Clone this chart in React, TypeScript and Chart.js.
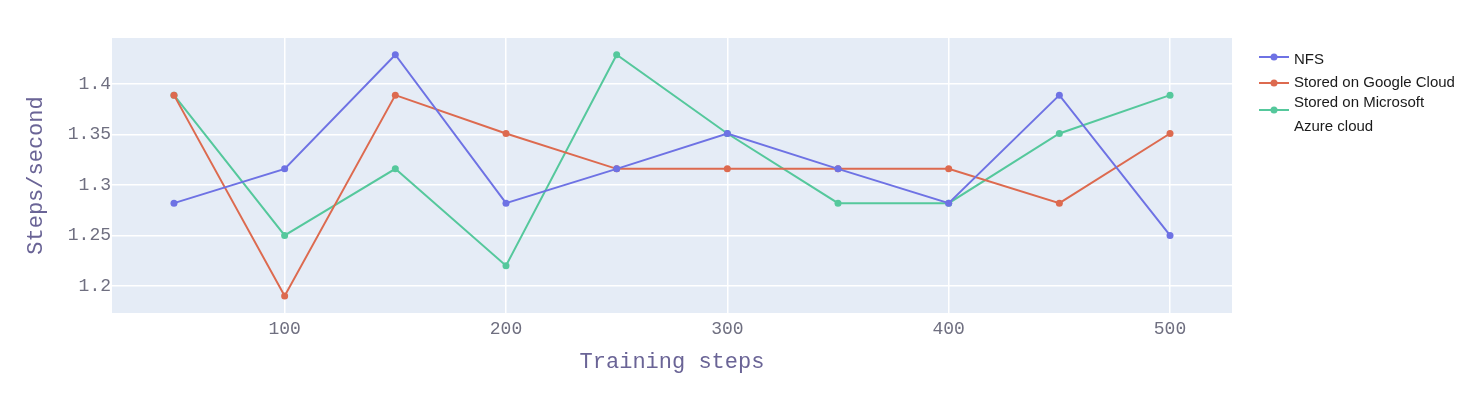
import React, { useEffect, useRef } from "react";
import { Chart, registerables } from "chart.js";

Chart.register(...registerables);

// ---- data ----
const steps = [50, 100, 150, 200, 250, 300, 350, 400, 450, 500];
const nfsValues = [1.282, 1.316, 1.429, 1.282, 1.316, 1.351, 1.316, 1.282, 1.389, 1.25];
const googleValues = [1.389, 1.19, 1.389, 1.351, 1.316, 1.316, 1.316, 1.316, 1.282, 1.351];
const azureValues = [1.389, 1.25, 1.316, 1.22, 1.429, 1.351, 1.282, 1.282, 1.351, 1.389];
const seriesNames = ["NFS", "Stored on Google Cloud", "Stored on Microsoft Azure cloud"];
const legendLines = [["NFS"], ["Stored on Google Cloud"], ["Stored on Microsoft", "Azure cloud"]];
const xTicks = [100, 200, 300, 400, 500];
const yTicks = [1.2, 1.25, 1.3, 1.35, 1.4];
const xTitle = "Training steps";
const yTitle = "Steps/second";

const colors = ["#6e72e4", "#dd6a4f", "#55c89c"];
const MONO = "'Liberation Mono', 'Courier New', monospace";

const bgPlugin = {
  id: "plotBg",
  beforeDraw(chart: any) {
    const { ctx, chartArea } = chart;
    ctx.save();
    ctx.fillStyle = "#E5ECF6";
    ctx.fillRect(chartArea.left, chartArea.top, chartArea.right - chartArea.left, chartArea.bottom - chartArea.top);
    ctx.restore();
  },
};

const legendPlugin = {
  id: "sideLegend",
  afterDraw(chart: any) {
    const { ctx, chartArea } = chart;
    const lineX0 = chartArea.right + 27;
    const lineX1 = lineX0 + 30;
    const textX = lineX1 + 5;
    const symbolY = [57, 83, 110];
    const textY = [[60], [83], [103, 127]];
    ctx.save();
    ctx.font = "15px 'Liberation Sans', Arial, sans-serif";
    ctx.textBaseline = "middle";
    ctx.textAlign = "left";
    legendLines.forEach((lines, i) => {
      ctx.strokeStyle = colors[i];
      ctx.lineWidth = 2;
      ctx.beginPath();
      ctx.moveTo(lineX0, symbolY[i]);
      ctx.lineTo(lineX1, symbolY[i]);
      ctx.stroke();
      ctx.fillStyle = colors[i];
      ctx.beginPath();
      ctx.arc((lineX0 + lineX1) / 2, symbolY[i], 3.5, 0, Math.PI * 2);
      ctx.fill();
      ctx.fillStyle = "#1a1a1a";
      lines.forEach((t, j) => ctx.fillText(t, textX, textY[i][j]));
    });
    ctx.restore();
  },
};

export default function App() {
  const ref = useRef<HTMLCanvasElement | null>(null);

  useEffect(() => {
    if (!ref.current) return;
    const series = [nfsValues, googleValues, azureValues];
    const chart = new Chart(ref.current, {
      type: "line",
      data: {
        datasets: series.map((vals, i) => ({
          label: seriesNames[i],
          data: steps.map((s, k) => ({ x: s, y: vals[k] })),
          borderColor: colors[i],
          backgroundColor: colors[i],
          borderWidth: 2,
          pointRadius: 3.5,
          pointHoverRadius: 3.5,
          pointBorderWidth: 0,
          tension: 0,
        })),
      },
      options: {
        animation: false,
        responsive: false,
        devicePixelRatio: 1,
        layout: { padding: { left: 0, top: 38, right: 238, bottom: 0 } },
        plugins: { legend: { display: false }, tooltip: { enabled: false } },
        scales: {
          x: {
            type: "linear",
            min: 22,
            max: 528,
            afterBuildTicks: (s: any) => {
              s.ticks = xTicks.map((v) => ({ value: v }));
            },
            afterFit: (s: any) => {
              s.height = 81;
            },
            grid: { color: "#ffffff", lineWidth: 1.5, drawTicks: false },
            border: { display: false },
            ticks: {
              padding: 5,
              color: "#6f6f80",
              font: { family: MONO, size: 18 },
              maxRotation: 0,
              callback: (v: any) => String(v),
            },
            title: {
              display: true,
              text: xTitle,
              color: "#6a6496",
              font: { family: MONO, size: 22 },
              padding: { top: 0, bottom: 19 },
            },
          },
          y: {
            type: "linear",
            min: 1.1732,
            max: 1.4456,
            afterBuildTicks: (s: any) => {
              s.ticks = yTicks.map((v) => ({ value: v }));
            },
            afterFit: (s: any) => {
              s.width = 112;
            },
            grid: { color: "#ffffff", lineWidth: 1.5, drawTicks: false },
            border: { display: false },
            ticks: {
              padding: 1,
              color: "#6f6f80",
              font: { family: MONO, size: 18 },
              callback: (v: any) => String(v),
            },
            title: {
              display: true,
              text: yTitle,
              color: "#6a6496",
              font: { family: MONO, size: 22 },
              padding: { top: 23, bottom: 0 },
            },
          },
        },
      },
      plugins: [bgPlugin, legendPlugin],
    });
    return () => chart.destroy();
  }, []);

  return (
    <div style={{ position: "absolute", left: 0, top: 0, width: 1470, height: 394, background: "#fff" }}>
      <canvas ref={ref} width={1470} height={394} style={{ width: 1470, height: 394, display: "block" }} />
    </div>
  );
}
